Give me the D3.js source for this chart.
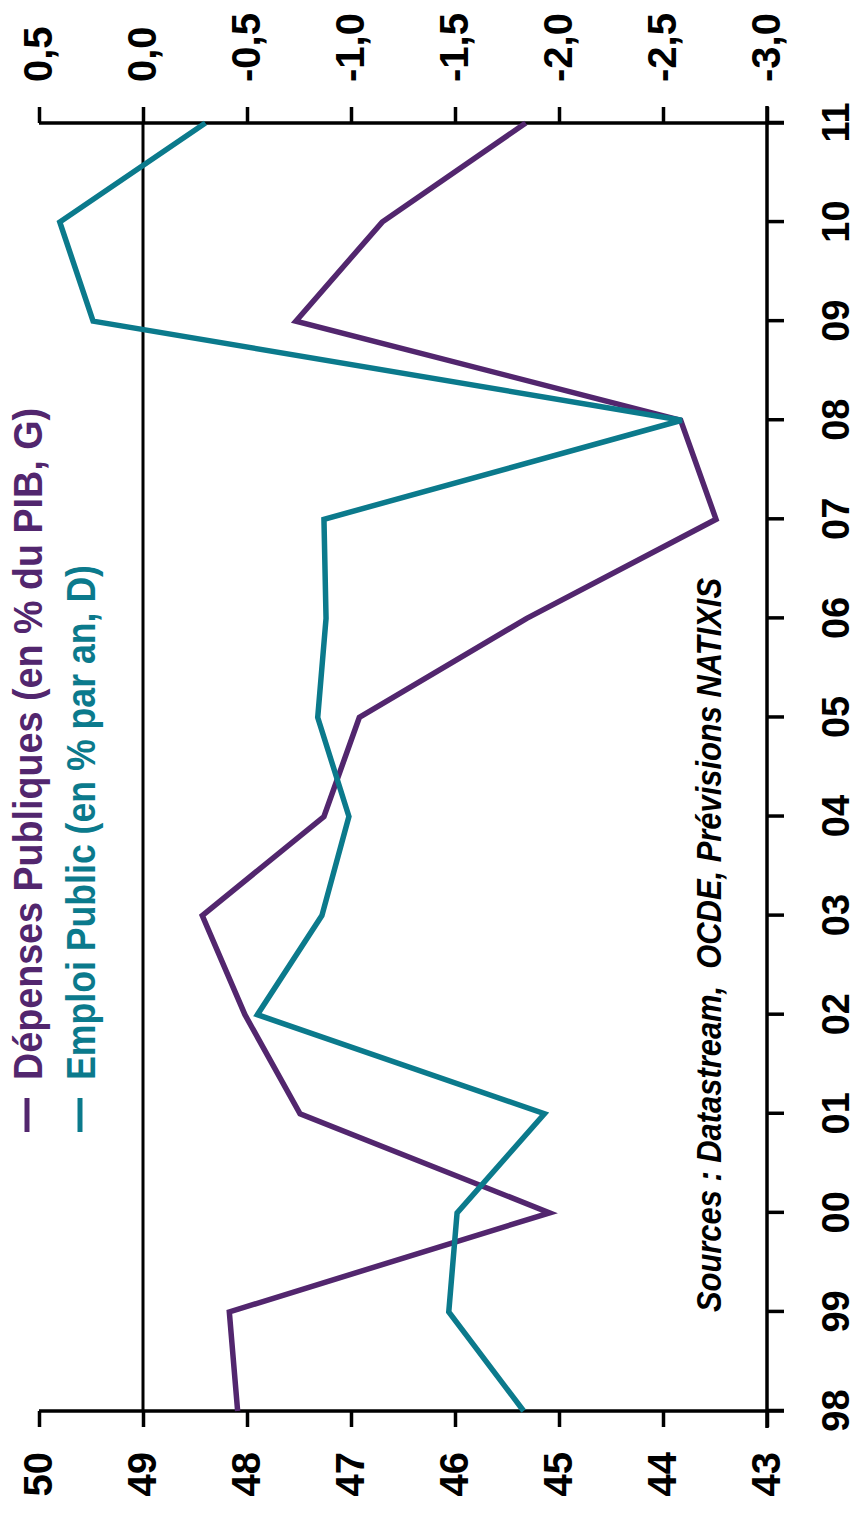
<!DOCTYPE html>
<html>
<head>
<meta charset="utf-8">
<script src="https://cdn.jsdelivr.net/npm/d3@7"></script>
<style>
  body { margin: 0; background: #fff; }
  text { font-family: "Liberation Sans", Arial, sans-serif; font-weight: bold; }
</style>
</head>
<body>
<script>
const years = ["98", "99", "00", "01", "02", "03", "04", "05", "06", "07", "08", "09", "10", "11"];
const depenses = [48.09, 48.17, 45.09, 47.49, 48.02, 48.43, 47.26, 46.92, 45.31, 43.49, 43.83, 47.53, 46.70, 45.32];
const emploi = [-1.83, -1.47, -1.51, -1.93, -0.55, -0.86, -0.99, -0.84, -0.88, -0.87, -2.59, 0.24, 0.40, -0.30];
const leftTicks = [43, 44, 45, 46, 47, 48, 49, 50];
const rightTicks = [-3, -2.5, -2, -1.5, -1, -0.5, 0, 0.5];
const legendLabels = ["Dépenses Publiques (en % du PIB, G)", "Emploi Public (en % par an, D)"];
const sourceText = "Sources : Datastream,  OCDE, Prévisions NATIXIS";

const purple = "#52266e";
const teal = "#0b7a8c";

// chart is drawn in its normal orientation, then turned a quarter turn
let W = 1519, H = 858;
let x0 = 108, x1 = 1396, yTop = 39, yBot = 767;
let tick = 17;

const fr = d3.formatLocale({decimal: ",", thousands: ".", grouping: [3], currency: ["", ""], minus: "-"});
const fmt1 = fr.format(".1f");

let x = d3.scalePoint().domain(years).range([x0, x1]);
let yL = d3.scaleLinear().domain([43, 50]).range([yBot, yTop]);
let yR = d3.scaleLinear().domain([-3, 0.5]).range([yBot, yTop]);

let svg = d3.select("body").append("svg")
  .attr("width", 858)
  .attr("height", 1519);

let g = svg.append("g")
  .attr("transform", "translate(0," + W + ") rotate(-90)");

// axes
let axL = g.append("g")
  .attr("transform", "translate(" + x0 + ",0)")
  .call(d3.axisLeft(yL).tickValues(leftTicks).tickSize(16).tickPadding(25).tickFormat(d3.format("d")));
let axR = g.append("g")
  .attr("transform", "translate(" + x1 + ",0)")
  .call(d3.axisRight(yR).tickValues(rightTicks).tickSize(16).tickPadding(25).tickFormat(fmt1));
let axX = g.append("g")
  .attr("transform", "translate(0," + yBot + ")")
  .call(d3.axisBottom(x).tickSize(tick).tickPadding(38));

[axL, axR, axX].forEach(function (a) {
  a.select(".domain").remove();
  a.selectAll("line").attr("stroke", "#000").attr("stroke-width", 3.5);
  a.selectAll("text").attr("fill", "#000").style("font-size", "40px");
});
axX.selectAll("text").style("font-size", "38px");

// axis lines, crossing at the corners
g.append("line").attr("x1", x0).attr("x2", x0).attr("y1", yTop).attr("y2", yBot + tick)
  .attr("stroke", "#000").attr("stroke-width", 3.5);
g.append("line").attr("x1", x1).attr("x2", x1).attr("y1", yTop).attr("y2", yBot + tick)
  .attr("stroke", "#000").attr("stroke-width", 3.5);
g.append("line").attr("x1", x0 - tick).attr("x2", x1 + tick).attr("y1", yBot).attr("y2", yBot)
  .attr("stroke", "#000").attr("stroke-width", 3.5);

// zero line of the right scale
g.append("line").attr("x1", x0).attr("x2", x1).attr("y1", yR(0)).attr("y2", yR(0))
  .attr("stroke", "#000").attr("stroke-width", 3);

let lineL = d3.line()
  .x(function (d, i) { return x(years[i]); })
  .y(function (d) { return yL(d); });
let lineR = d3.line()
  .x(function (d, i) { return x(years[i]); })
  .y(function (d) { return yR(d); });

g.append("path").datum(depenses)
  .attr("d", lineL).attr("fill", "none").attr("stroke", purple)
  .attr("stroke-width", 5.5).attr("stroke-linejoin", "miter");
g.append("path").datum(emploi)
  .attr("d", lineR).attr("fill", "none").attr("stroke", teal)
  .attr("stroke-width", 5.5).attr("stroke-linejoin", "miter");

// legend
let legY = [27, 80];
let legLen = [672, 515];
[purple, teal].forEach(function (c, i) {
  g.append("line").attr("x1", 387).attr("x2", 421).attr("y1", legY[i]).attr("y2", legY[i])
    .attr("stroke", c).attr("stroke-width", 5);
  g.append("text").attr("x", 439).attr("y", legY[i] + 15)
    .attr("fill", c).style("font-size", "40px")
    .attr("textLength", legLen[i]).attr("lengthAdjust", "spacingAndGlyphs")
    .text(legendLabels[i]);
});

// sources
g.append("text").attr("x", 207).attr("y", 721)
  .attr("fill", "#000").style("font-size", "35px").style("font-style", "italic")
  .style("white-space", "pre")
  .attr("textLength", 734).attr("lengthAdjust", "spacingAndGlyphs")
  .text(sourceText);
</script>
</body>
</html>
